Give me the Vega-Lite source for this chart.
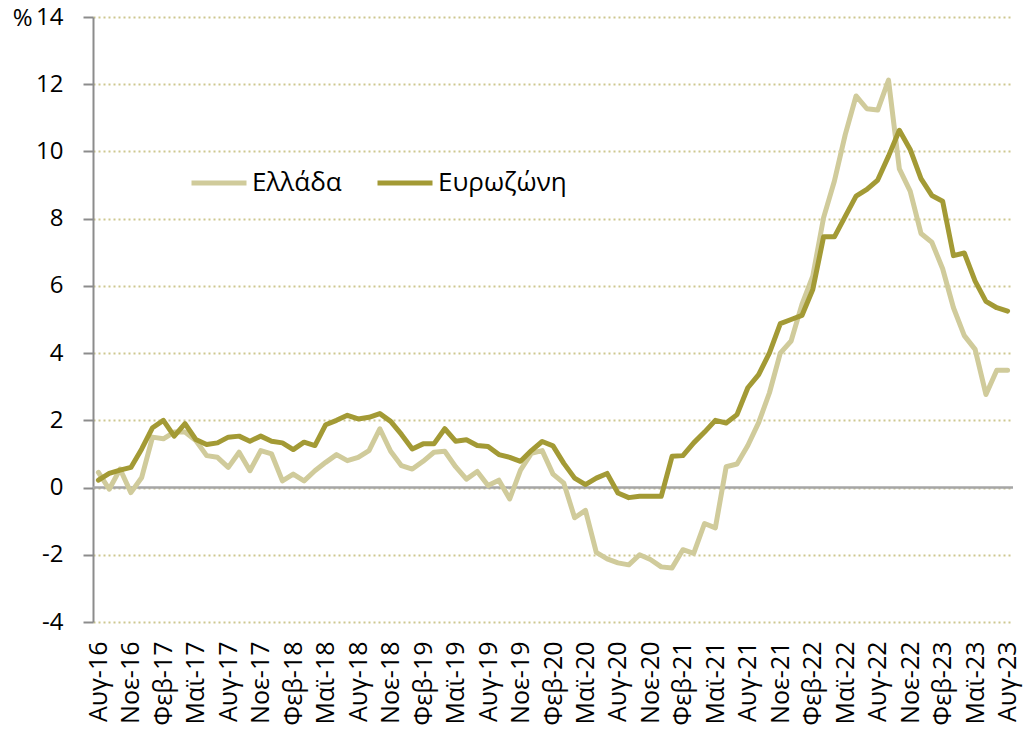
{
  "$schema": "https://vega.github.io/schema/vega-lite/v6.json",
  "width": 920,
  "height": 605,
  "autosize": "none",
  "padding": {"left": 93, "top": 17, "right": 12, "bottom": 109},
  "background": "white",
  "config": {"view": {"stroke": null}, "font": "Open Sans"},
  "data": {"values": [
    {"m":"Αυγ-16","Ελλάδα":0.45,"Ευρωζώνη":0.22},
    {"m":"Σεπ-16","Ελλάδα":-0.05,"Ευρωζώνη":0.42},
    {"m":"Οκτ-16","Ελλάδα":0.55,"Ευρωζώνη":0.52},
    {"m":"Νοε-16","Ελλάδα":-0.15,"Ευρωζώνη":0.6},
    {"m":"Δεκ-16","Ελλάδα":0.3,"Ευρωζώνη":1.15},
    {"m":"Ιαν-17","Ελλάδα":1.5,"Ευρωζώνη":1.78},
    {"m":"Φεβ-17","Ελλάδα":1.45,"Ευρωζώνη":2.0},
    {"m":"Μαρ-17","Ελλάδα":1.65,"Ευρωζώνη":1.53},
    {"m":"Απρ-17","Ελλάδα":1.65,"Ευρωζώνη":1.9},
    {"m":"Μαϊ-17","Ελλάδα":1.4,"Ευρωζώνη":1.43},
    {"m":"Ιουν-17","Ελλάδα":0.95,"Ευρωζώνη":1.28},
    {"m":"Ιουλ-17","Ελλάδα":0.9,"Ευρωζώνη":1.33},
    {"m":"Αυγ-17","Ελλάδα":0.6,"Ευρωζώνη":1.5},
    {"m":"Σεπ-17","Ελλάδα":1.05,"Ευρωζώνη":1.53},
    {"m":"Οκτ-17","Ελλάδα":0.5,"Ευρωζώνη":1.38},
    {"m":"Νοε-17","Ελλάδα":1.1,"Ευρωζώνη":1.53},
    {"m":"Δεκ-17","Ελλάδα":1.0,"Ευρωζώνη":1.38},
    {"m":"Ιαν-18","Ελλάδα":0.2,"Ευρωζώνη":1.33},
    {"m":"Φεβ-18","Ελλάδα":0.4,"Ευρωζώνη":1.13},
    {"m":"Μαρ-18","Ελλάδα":0.2,"Ευρωζώνη":1.35},
    {"m":"Απρ-18","Ελλάδα":0.5,"Ευρωζώνη":1.25},
    {"m":"Μαϊ-18","Ελλάδα":0.75,"Ευρωζώνη":1.87},
    {"m":"Ιουν-18","Ελλάδα":0.98,"Ευρωζώνη":2.0},
    {"m":"Ιουλ-18","Ελλάδα":0.8,"Ευρωζώνη":2.15},
    {"m":"Αυγ-18","Ελλάδα":0.9,"Ευρωζώνη":2.04},
    {"m":"Σεπ-18","Ελλάδα":1.1,"Ευρωζώνη":2.09},
    {"m":"Οκτ-18","Ελλάδα":1.75,"Ευρωζώνη":2.2},
    {"m":"Νοε-18","Ελλάδα":1.08,"Ευρωζώνη":1.97},
    {"m":"Δεκ-18","Ελλάδα":0.65,"Ευρωζώνη":1.58},
    {"m":"Ιαν-19","Ελλάδα":0.55,"Ευρωζώνη":1.15},
    {"m":"Φεβ-19","Ελλάδα":0.78,"Ευρωζώνη":1.3},
    {"m":"Μαρ-19","Ελλάδα":1.05,"Ευρωζώνη":1.3},
    {"m":"Απρ-19","Ελλάδα":1.08,"Ευρωζώνη":1.75},
    {"m":"Μαϊ-19","Ελλάδα":0.62,"Ευρωζώνη":1.38},
    {"m":"Ιουν-19","Ελλάδα":0.25,"Ευρωζώνη":1.42},
    {"m":"Ιουλ-19","Ελλάδα":0.48,"Ευρωζώνη":1.25},
    {"m":"Αυγ-19","Ελλάδα":0.06,"Ευρωζώνη":1.22},
    {"m":"Σεπ-19","Ελλάδα":0.22,"Ευρωζώνη":0.98},
    {"m":"Οκτ-19","Ελλάδα":-0.34,"Ευρωζώνη":0.9},
    {"m":"Νοε-19","Ελλάδα":0.52,"Ευρωζώνη":0.78},
    {"m":"Δεκ-19","Ελλάδα":1.02,"Ευρωζώνη":1.1},
    {"m":"Ιαν-20","Ελλάδα":1.1,"Ευρωζώνη":1.37},
    {"m":"Φεβ-20","Ελλάδα":0.4,"Ευρωζώνη":1.24},
    {"m":"Μαρ-20","Ελλάδα":0.13,"Ευρωζώνη":0.72},
    {"m":"Απρ-20","Ελλάδα":-0.9,"Ευρωζώνη":0.28},
    {"m":"Μαϊ-20","Ελλάδα":-0.68,"Ευρωζώνη":0.09},
    {"m":"Ιουν-20","Ελλάδα":-1.93,"Ευρωζώνη":0.28},
    {"m":"Ιουλ-20","Ελλάδα":-2.12,"Ευρωζώνη":0.42},
    {"m":"Αυγ-20","Ελλάδα":-2.24,"Ευρωζώνη":-0.16},
    {"m":"Σεπ-20","Ελλάδα":-2.3,"Ευρωζώνη":-0.3},
    {"m":"Οκτ-20","Ελλάδα":-2.0,"Ευρωζώνη":-0.26},
    {"m":"Νοε-20","Ελλάδα":-2.14,"Ευρωζώνη":-0.26},
    {"m":"Δεκ-20","Ελλάδα":-2.36,"Ευρωζώνη":-0.26},
    {"m":"Ιαν-21","Ελλάδα":-2.39,"Ευρωζώνη":0.93},
    {"m":"Φεβ-21","Ελλάδα":-1.85,"Ευρωζώνη":0.95},
    {"m":"Μαρ-21","Ελλάδα":-1.96,"Ευρωζώνη":1.33},
    {"m":"Απρ-21","Ελλάδα":-1.07,"Ευρωζώνη":1.65},
    {"m":"Μαϊ-21","Ελλάδα":-1.2,"Ευρωζώνη":2.0},
    {"m":"Ιουν-21","Ελλάδα":0.62,"Ευρωζώνη":1.92},
    {"m":"Ιουλ-21","Ελλάδα":0.7,"Ευρωζώνη":2.17},
    {"m":"Αυγ-21","Ελλάδα":1.25,"Ευρωζώνη":2.97},
    {"m":"Σεπ-21","Ελλάδα":1.93,"Ευρωζώνη":3.36},
    {"m":"Οκτ-21","Ελλάδα":2.82,"Ευρωζώνη":4.01},
    {"m":"Νοε-21","Ελλάδα":4.0,"Ευρωζώνη":4.88},
    {"m":"Δεκ-21","Ελλάδα":4.36,"Ευρωζώνη":5.0},
    {"m":"Ιαν-22","Ελλάδα":5.45,"Ευρωζώνη":5.12},
    {"m":"Φεβ-22","Ελλάδα":6.29,"Ευρωζώνη":5.89},
    {"m":"Μαρ-22","Ελλάδα":8.03,"Ευρωζώνη":7.46},
    {"m":"Απρ-22","Ελλάδα":9.12,"Ευρωζώνη":7.46},
    {"m":"Μαϊ-22","Ελλάδα":10.5,"Ευρωζώνη":8.07},
    {"m":"Ιουν-22","Ελλάδα":11.65,"Ευρωζώνη":8.67},
    {"m":"Ιουλ-22","Ελλάδα":11.27,"Ευρωζώνη":8.87},
    {"m":"Αυγ-22","Ελλάδα":11.23,"Ευρωζώνη":9.15},
    {"m":"Σεπ-22","Ελλάδα":12.12,"Ευρωζώνη":9.86},
    {"m":"Οκτ-22","Ελλάδα":9.48,"Ευρωζώνη":10.63},
    {"m":"Νοε-22","Ελλάδα":8.82,"Ευρωζώνη":10.06},
    {"m":"Δεκ-22","Ελλάδα":7.56,"Ευρωζώνη":9.19},
    {"m":"Ιαν-23","Ελλάδα":7.3,"Ευρωζώνη":8.69},
    {"m":"Φεβ-23","Ελλάδα":6.51,"Ευρωζώνη":8.52},
    {"m":"Μαρ-23","Ελλάδα":5.35,"Ευρωζώνη":6.9},
    {"m":"Απρ-23","Ελλάδα":4.52,"Ευρωζώνη":6.98},
    {"m":"Μαϊ-23","Ελλάδα":4.11,"Ευρωζώνη":6.14},
    {"m":"Ιουν-23","Ελλάδα":2.77,"Ευρωζώνη":5.54},
    {"m":"Ιουλ-23","Ελλάδα":3.49,"Ευρωζώνη":5.35},
    {"m":"Αυγ-23","Ελλάδα":3.49,"Ευρωζώνη":5.25}
  ]},
  "layer": [
    {
      "data": {"values": [{"z": 0}]},
      "mark": {"type": "rule", "color": "#a6a6a6", "strokeWidth": 2.5},
      "encoding": {"y": {"field": "z", "type": "quantitative", "scale": {"domain": [-4, 14], "nice": false}}}
    },
    {
      "transform": [{"fold": ["Ελλάδα", "Ευρωζώνη"], "as": ["s", "v"]}],
      "mark": {"type": "line", "strokeWidth": 5, "strokeJoin": "round", "strokeCap": "round"},
      "encoding": {
        "x": {
          "field": "m", "type": "ordinal", "sort": null,
          "scale": {"type": "point", "padding": 0.5},
          "axis": {
            "title": null,
            "values": ["Αυγ-16","Νοε-16","Φεβ-17","Μαϊ-17","Αυγ-17","Νοε-17","Φεβ-18","Μαϊ-18","Αυγ-18","Νοε-18","Φεβ-19","Μαϊ-19","Αυγ-19","Νοε-19","Φεβ-20","Μαϊ-20","Αυγ-20","Νοε-20","Φεβ-21","Μαϊ-21","Αυγ-21","Νοε-21","Φεβ-22","Μαϊ-22","Αυγ-22","Νοε-22","Φεβ-23","Μαϊ-23","Αυγ-23"],
            "labelAngle": -90, "labelAlign": "right", "labelBaseline": "middle",
            "domain": false, "ticks": false, "grid": false,
            "labelPadding": 19, "labelFontSize": 25, "labelFont": "Open Sans", "labelColor": "#000000"
          }
        },
        "y": {
          "field": "v", "type": "quantitative",
          "scale": {"domain": [-4, 14], "nice": false},
          "axis": {
            "values": [-4, -2, 0, 2, 4, 6, 8, 10, 12, 14],
            "labelExpr": "datum.value < 0 ? '-' + abs(datum.value) : '' + datum.value",
            "grid": true, "gridColor": "#cdc78f", "gridDash": [2, 3], "gridWidth": 2,
            "domainColor": "#8c8c8c", "domainWidth": 2,
            "tickColor": "#8c8c8c", "tickWidth": 2, "tickSize": 10,
            "labelFontSize": 24, "labelFont": "Open Sans", "labelColor": "#000000", "labelPadding": 20,
            "title": "%", "titleAngle": 0, "titleX": -61, "titleY": 1,
            "titleAlign": "right", "titleBaseline": "middle",
            "titleFontWeight": "normal", "titleFontSize": 24, "titleFont": "Open Sans", "titleColor": "#000000"
          }
        },
        "color": {
          "field": "s", "type": "nominal",
          "scale": {"domain": ["Ελλάδα", "Ευρωζώνη"], "range": ["#d0cb9b", "#a39a35"]},
          "legend": {
            "orient": "none", "legendX": 96, "legendY": 136, "direction": "horizontal",
            "title": null, "symbolType": "stroke", "symbolSize": 3025, "symbolStrokeWidth": 5,
            "labelFontSize": 26, "labelFont": "Open Sans", "labelColor": "#000000",
            "columnPadding": 25, "labelOffset": 3
          }
        }
      }
    }
  ]
}
